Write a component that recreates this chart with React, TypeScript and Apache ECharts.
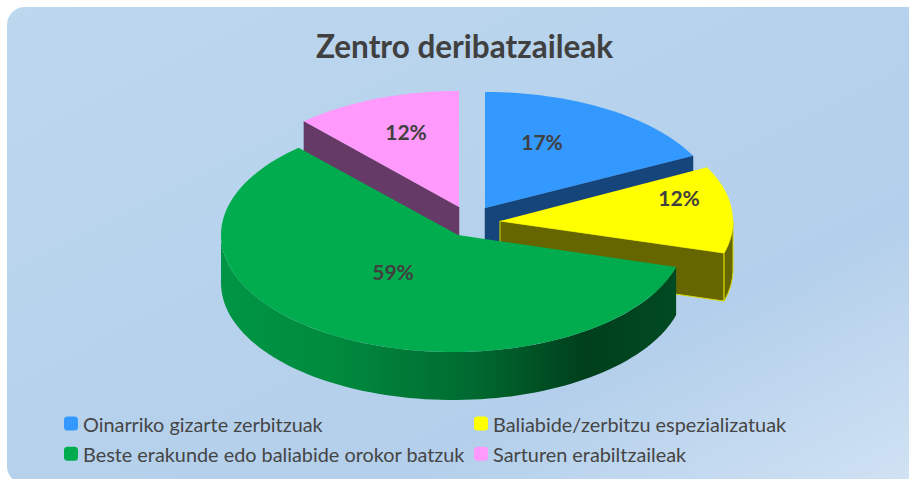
import React, { useEffect, useRef } from "react";
import * as echarts from "echarts";

const categories = [
  "Oinarriko gizarte zerbitzuak",
  "Baliabide/zerbitzu espezializatuak",
  "Beste erakunde edo baliabide orokor batzuk",
  "Sarturen erabiltzaileak",
];
const shares = [17, 12, 59, 12];
const topColors = ["#3399ff", "#ffff00", "#00ac4e", "#ff99fb"];
const sideColors = ["#15457a", "#666600", "#00803a", "#663a66"];
const titleText = "Zentro deribatzaileak";

// Layout of each exploded wedge: apex (px, py), ellipse centre (cx, cy), radii,
// perspective rotation, label offset from the apex, draw order.
const DEPTH = 48;
const wedgeLayout = [
  { px: 485, py: 208, cx: 485, cy: 208, rx: 233, ry: 116, rot: 2, lx: 57, ly: -67, z: 2 },
  { px: 500, py: 221, cx: 500, cy: 221, rx: 233, ry: 117, rot: 1.5, lx: 179, ly: -24, z: 3 },
  { px: 458, py: 235, cx: 453, cy: 235, rx: 232, ry: 117, rot: 1.5, lx: -65, ly: 36, z: 4 },
  { px: 459, py: 207, cx: 459, cy: 207, rx: 230, ry: 116, rot: 0.8, lx: -53, ly: -76, z: 1 },
];

const total = shares.reduce((a, b) => a + b, 0);
const startDeg = (i: number) =>
  (shares.slice(0, i).reduce((a, b) => a + b, 0) / total) * 360;
const rad = (d: number) => (d * Math.PI) / 180;

function arcPoints(l: any, a0: number, a1: number, dy = 0) {
  const pts: number[][] = [];
  const n = Math.max(2, Math.ceil(Math.abs(a1 - a0) / 2));
  for (let k = 0; k <= n; k++) {
    const a = rad(a0 + ((a1 - a0) * k) / n);
    pts.push([l.cx + l.rx * Math.sin(a), l.cy - l.ry * Math.cos(a) + dy]);
  }
  return pts;
}

function wedgeRender(i: number) {
  return (_p: any, _api: any) => {
    const l = wedgeLayout[i];
    const a0 = i === 0 ? startDeg(i) : startDeg(i) + l.rot;
    const a1 = i === 3 ? startDeg(i + 1) : startDeg(i + 1) + l.rot;
    const children: any[] = [];
    const side = sideColors[i];
    const top = topColors[i];
    const thin = { stroke: i === 1 ? "#d8d800" : side, lineWidth: i === 1 ? 1 : 0.5 };

    // cut face along the radius that looks towards the viewer
    const cutAngle = i === 2 ? null : i === 3 ? a0 : a1;
    if (cutAngle !== null) {
      const a = rad(cutAngle);
      const ex = l.cx + l.rx * Math.sin(a);
      const ey = l.cy - l.ry * Math.cos(a);
      children.push({
        type: "polygon",
        shape: {
          points: [
            [l.px, l.py],
            [ex, ey],
            [ex, ey + DEPTH],
            [l.px, l.py + DEPTH],
          ],
        },
        style: { fill: side, ...thin },
      });
    }
    // outer wall of the front half
    const w0 = Math.max(a0, 90);
    const w1 = Math.min(a1, 270);
    if (w1 > w0) {
      const upper = arcPoints(l, w0, w1);
      const lower = arcPoints(l, w0, w1, DEPTH).reverse();
      const fill =
        i === 2
          ? new echarts.graphic.LinearGradient(1, 0, 0, 0, [
              { offset: 0, color: "#004a22" },
              { offset: 0.2, color: "#003f1c" },
              { offset: 0.45, color: "#006a30" },
              { offset: 0.75, color: "#008a3e" },
              { offset: 1, color: "#009545" },
            ])
          : side;
      children.push({
        type: "polygon",
        shape: { points: [...upper, ...lower] },
        style: { fill, ...(i === 2 ? {} : thin) },
      });
    }
    // top face
    children.push({
      type: "polygon",
      shape: { points: [[l.px, l.py], ...arcPoints(l, a0, a1)] },
      style: { fill: top },
    });
    // value label
    children.push({
      type: "text",
      z2: 10,
      style: {
        x: l.px + l.lx,
        y: l.py + l.ly,
        text: `${shares[i]}%`,
        fill: "#404040",
        font: "bold 21px Lato",
        align: "center",
        verticalAlign: "middle",
      },
    });
    return { type: "group", children };
  };
}

const legendBase = {
  orient: "vertical",
  top: 408.5,
  itemGap: 10.2,
  itemWidth: 14,
  itemHeight: 14,
  icon: "roundRect",
  selectedMode: false,
  textStyle: { fontFamily: "Lato", fontSize: 19.85, color: "#454545" },
};

export default function App() {
  const ref = useRef<HTMLDivElement>(null);
  useEffect(() => {
    const chart = echarts.init(ref.current!, undefined, { renderer: "svg" });
    chart.setOption({
      animation: false,
      backgroundColor: "#ffffff",
      title: {
        text: titleText,
        left: 459.5,
        top: 25,
        textAlign: "center",
        textStyle: { fontFamily: "Lato", fontWeight: "bold", fontSize: 31.5, color: "#404040" },
      },
      graphic: [
        {
          type: "rect",
          z: -10,
          silent: true,
          shape: { x: 7, y: 7, width: 930, height: 477, r: 18 },
          style: {
            fill: new echarts.graphic.LinearGradient(0, 0, 1, 1, [
              { offset: 0, color: "#bdd7ee" },
              { offset: 0.7, color: "#b3cfeb" },
              { offset: 1, color: "#d2e3f4" },
            ]),
          },
        },
      ],
      legend: [
        { ...legendBase, left: 59, data: [categories[0], categories[2]] },
        { ...legendBase, left: 469, data: [categories[1], categories[3]] },
      ],
      series: categories.map((name, i) => ({
        type: "custom",
        name,
        coordinateSystem: "none",
        z: wedgeLayout[i].z,
        silent: true,
        itemStyle: { color: topColors[i] },
        data: [shares[i]],
        renderItem: wedgeRender(i),
      })),
    });
    return () => chart.dispose();
  }, []);
  return (
    <div
      ref={ref}
      style={{ position: "absolute", left: 0, top: 0, width: 909, height: 479 }}
    />
  );
}
